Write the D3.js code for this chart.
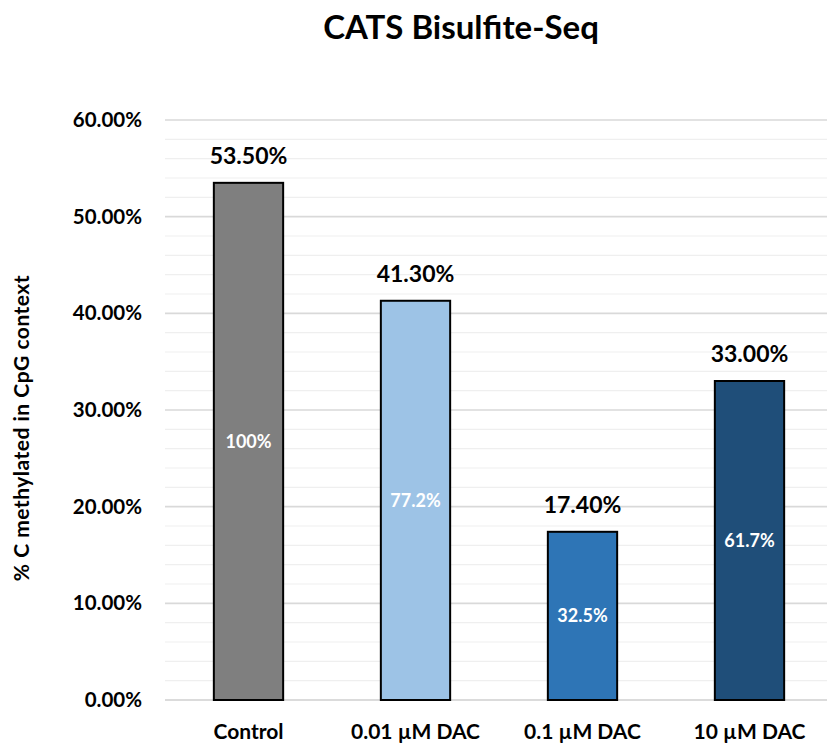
<!DOCTYPE html>
<html>
<head>
<meta charset="utf-8">
<script src="https://cdn.jsdelivr.net/npm/d3@7"></script>
<style>
  html, body { margin: 0; padding: 0; background: #fff; }
  svg { display: block; font-family: Lato, "Open Sans", sans-serif; font-weight: bold; }
</style>
</head>
<body>
<svg id="chart" width="827" height="743"></svg>
<script>
// Bisulfite-seq methylation per treatment
const categories = ["Control", "0.01 µM DAC", "0.1 µM DAC", "10 µM DAC"];
const methylation = [53.5, 41.3, 17.4, 33.0];          // % C methylated in CpG context
const relativeLabels = ["100%", "77.2%", "32.5%", "61.7%"]; // relative to control
const colors = ["#7f7f7f", "#9dc3e6", "#2e75b6", "#1f4e79"];
const yTicks = [0, 10, 20, 30, 40, 50, 60];
const yMinorTicks = d3.range(0, 61, 2);

const svg = d3.select("#chart");
const W = 827, H = 743;
const margin = { left: 165, right: -6, top: 120, bottom: 43 };
const plotRight = W - margin.right;
const plotBottom = H - margin.bottom;

const x = d3.scaleBand()
  .domain(categories)
  .range([margin.left, plotRight])
  .paddingInner(0.585)
  .paddingOuter(0.2925);

const y = d3.scaleLinear()
  .domain([0, 60])
  .range([plotBottom, margin.top]);

// Title
svg.append("text")
  .attr("x", 461).attr("y", 39)
  .attr("text-anchor", "middle")
  .style("font-size", "33px")
  .attr("fill", "#000")
  .text("CATS Bisulfite-Seq");

// Minor gridlines
svg.append("g").selectAll("line")
  .data(yMinorTicks.filter(d => d % 10 !== 0))
  .join("line")
  .attr("x1", margin.left).attr("x2", W)
  .attr("y1", d => y(d)).attr("y2", d => y(d))
  .attr("stroke", "#efefef").attr("stroke-width", 1.2);

// Major gridlines
svg.append("g").selectAll("line")
  .data(yTicks)
  .join("line")
  .attr("x1", margin.left).attr("x2", W)
  .attr("y1", d => y(d)).attr("y2", d => y(d))
  .attr("stroke", d => d === 0 ? "#cfcfcf" : "#d9d9d9")
  .attr("stroke-width", 1.6);

// Y axis labels
const yAxis = d3.axisLeft(y)
  .tickValues(yTicks)
  .tickFormat(d => d3.format(".2f")(d) + "%")
  .tickSize(0)
  .tickPadding(23);
const gy = svg.append("g")
  .attr("transform", `translate(${margin.left},0)`)
  .call(yAxis);
gy.select(".domain").remove();
gy.selectAll("text")
  .attr("fill", "#000")
  .style("font-size", "20.5px")
  .style("font-family", "Lato, 'Open Sans', sans-serif")
  .style("font-weight", "bold");

// X axis labels
const xAxis = d3.axisBottom(x).tickSize(0).tickPadding(24);
const gx = svg.append("g")
  .attr("transform", `translate(0,${plotBottom})`)
  .call(xAxis);
gx.select(".domain").remove();
gx.selectAll("text")
  .attr("fill", "#000")
  .style("font-size", "21px")
  .style("font-family", "Lato, 'Open Sans', sans-serif")
  .style("font-weight", "bold");

// Y axis title
svg.append("text")
  .attr("transform", `translate(29,${(margin.top + plotBottom) / 2 + 18}) rotate(-90)`)
  .attr("text-anchor", "middle")
  .style("font-size", "21px")
  .style("letter-spacing", "0.5px")
  .attr("fill", "#000")
  .text("% C methylated in CpG context");

const data = categories.map((c, i) => ({
  cat: c, value: methylation[i], rel: relativeLabels[i], color: colors[i]
}));

// Bars
svg.append("g").selectAll("rect")
  .data(data)
  .join("rect")
  .attr("x", d => x(d.cat))
  .attr("width", x.bandwidth())
  .attr("y", d => y(d.value))
  .attr("height", d => y(0) - y(d.value))
  .attr("fill", d => d.color)
  .attr("stroke", "#000")
  .attr("stroke-width", 2);

// Value labels above bars
svg.append("g").selectAll("text")
  .data(data)
  .join("text")
  .attr("x", d => x(d.cat) + x.bandwidth() / 2)
  .attr("y", d => y(d.value) - 19)
  .attr("text-anchor", "middle")
  .style("font-size", "23px")
  .attr("fill", "#000")
  .text(d => d3.format(".2f")(d.value) + "%");

// Relative labels inside bars
svg.append("g").selectAll("text")
  .data(data)
  .join("text")
  .attr("x", d => x(d.cat) + x.bandwidth() / 2)
  .attr("y", d => (y(d.value) + y(0)) / 2)
  .attr("dy", "0.35em")
  .attr("text-anchor", "middle")
  .style("font-size", "18px")
  .attr("fill", "#fff")
  .text(d => d.rel);
</script>
</body>
</html>
